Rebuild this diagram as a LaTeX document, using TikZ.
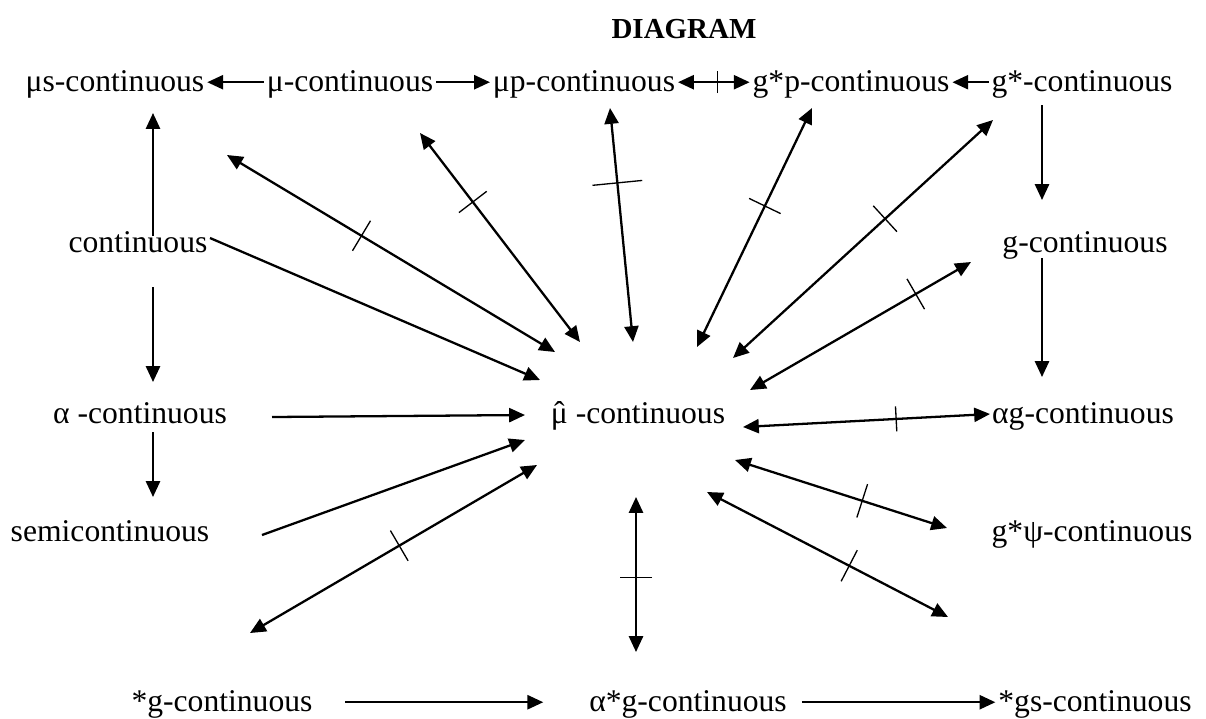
\documentclass[tikz,border=0pt]{standalone}
\usepackage{fontspec}
\setmainfont{Liberation Serif}
\usetikzlibrary{arrows.meta, decorations.markings}
\newcommand\muhat{\ooalign{\hfil ˆ\hfil\cr μ\cr}}

\begin{document}
\begin{tikzpicture}[x=0.02cm, y=-0.02cm,
  lbl/.style={font=\fontsize{18}{21}\selectfont, anchor=base, inner xsep=1.5pt, inner ysep=2pt, text height=13pt, text depth=3pt},
  arr/.style={-{Triangle[length=9pt,width=8pt]}, line width=1.3pt},
  both/.style={{Triangle[length=9pt,width=8pt]}-{Triangle[length=9pt,width=8pt]}, line width=1.3pt},
  nimp/.style 2 args={postaction={decorate, decoration={markings, mark=at position #1 with {\draw[-, line width=.75pt] (0,-#2) -- (0,#2);}}}},
]
  \useasboundingbox (0,0) rectangle (1206,718);

  \node[font=\fontsize{16.5}{20}\selectfont\bfseries, anchor=base] (title) at (684,38) {DIAGRAM};

  % labels
  \node[lbl] (mus)   at (115,91)   {μs-continuous};
  \node[lbl] (mu)    at (350,91)   {μ-continuous};
  \node[lbl] (mup)   at (584,91)   {μp-continuous};
  \node[lbl] (gsp)   at (851,91)   {g*p-continuous};
  \node[lbl] (gs)    at (1082,91)  {g*-continuous};
  \node[lbl] (cont)  at (138,252)  {continuous};
  \node[lbl] (g)     at (1085,252) {g-continuous};
  \node[lbl] (alpha) at (140,423)  {α -continuous};
  \node[lbl] (hat)   at (638,423)  {\muhat\ -continuous};
  \node[lbl] (ag)    at (1083,423) {αg-continuous};
  \node[lbl] (semi)  at (110,541)  {semicontinuous};
  \node[lbl] (gpsi)  at (1092,541) {g*ψ-continuous};
  \node[lbl] (sg)    at (222,711)  {*g-continuous};
  \node[lbl] (asg)   at (688,711)  {α*g-continuous};
  \node[lbl] (sgs)   at (1095,711) {*gs-continuous};

  % end points of the connectors
  \coordinate (cont-up)   at (153,236);
  \coordinate (mus-dn)    at (153,113);
  \coordinate (cont-dn)   at (153,287);
  \coordinate (alpha-up)  at (153,382);
  \coordinate (alpha-dn)  at (153,432);
  \coordinate (semi-up)   at (153,497);
  \coordinate (gs-dn)     at (1042,105);
  \coordinate (g-up)      at (1042,200);
  \coordinate (g-dn)      at (1042,258);
  \coordinate (ag-up)     at (1042,377);

  \coordinate (mus-o)   at (227,155);  \coordinate (mus-i)   at (555,352);
  \coordinate (mu-o)    at (420,133);  \coordinate (mu-i)    at (580,342);
  \coordinate (mup-o)   at (610,108);  \coordinate (mup-i)   at (633,342);
  \coordinate (gsp-o)   at (812,108);  \coordinate (gsp-i)   at (697,347);
  \coordinate (gs-o)    at (993,120);  \coordinate (gs-i)    at (733,358);
  \coordinate (g-o)     at (971,262);  \coordinate (g-i)     at (750,390);
  \coordinate (ag-o)    at (990,414);  \coordinate (ag-i)    at (743,427);
  \coordinate (gpsi-o)  at (947,528);  \coordinate (gpsi-i)  at (735,460);
  \coordinate (lone-o)  at (948,617);  \coordinate (lone-i)  at (707,492);
  \coordinate (asg-o)   at (636,652);  \coordinate (asg-i)   at (636,497);
  \coordinate (sg-o)    at (250,633);  \coordinate (sg-i)    at (537,465);
  \coordinate (semi-o)  at (262,535);  \coordinate (semi-i)  at (525,440);
  \coordinate (alpha-o) at (272,417);  \coordinate (alpha-i) at (525,415);
  \coordinate (cont-o)  at (210,238);  \coordinate (cont-i)  at (540,380);

  % top and bottom rows
  \draw[arr] (mu) -- (mus);
  \draw[arr] (mu) -- (mup);
  \draw[both, nimp={0.55}{0.22cm}] (mup) -- (gsp);
  \draw[arr] (gs) -- (gsp);
  \draw[arr, shorten <=0.6cm, shorten >=0.86cm] (sg) -- (asg);
  \draw[arr, shorten <=0.24cm] (asg) -- (sgs);

  % columns
  \draw[arr] (cont-up) -- (mus-dn);
  \draw[arr] (cont-dn) -- (alpha-up);
  \draw[arr] (alpha-dn) -- (semi-up);
  \draw[arr] (gs-dn) -- (g-up);
  \draw[arr] (g-dn) -- (ag-up);

  % towards the hat node
  \draw[both, nimp={0.41}{0.35cm}] (mus-o) -- (mus-i);
  \draw[both, nimp={0.33}{0.35cm}] (mu-o) -- (mu-i);
  \draw[both, nimp={0.32}{0.5cm}] (mup-o) -- (mup-i);
  \draw[both, nimp={0.41}{0.35cm}] (gsp-o) -- (gsp-i);
  \draw[both, nimp={0.415}{0.35cm}] (gs-o) -- (gs-i);
  \draw[both, nimp={0.25}{0.35cm}] (g-o) -- (g-i);
  \draw[both, nimp={0.38}{0.25cm}] (ag-o) -- (ag-i);
  \draw[both, nimp={0.40}{0.35cm}] (gpsi-o) -- (gpsi-i);
  \draw[both, nimp={0.41}{0.35cm}] (lone-o) -- (lone-i);
  \draw[both, nimp={0.48}{0.32cm}] (asg-o) -- (asg-i);
  \draw[both, nimp={0.52}{0.35cm}] (sg-o) -- (sg-i);
  \draw[arr] (semi-o) -- (semi-i);
  \draw[arr] (alpha-o) -- (alpha-i);
  \draw[arr] (cont-o) -- (cont-i);
\end{tikzpicture}
\end{document}
